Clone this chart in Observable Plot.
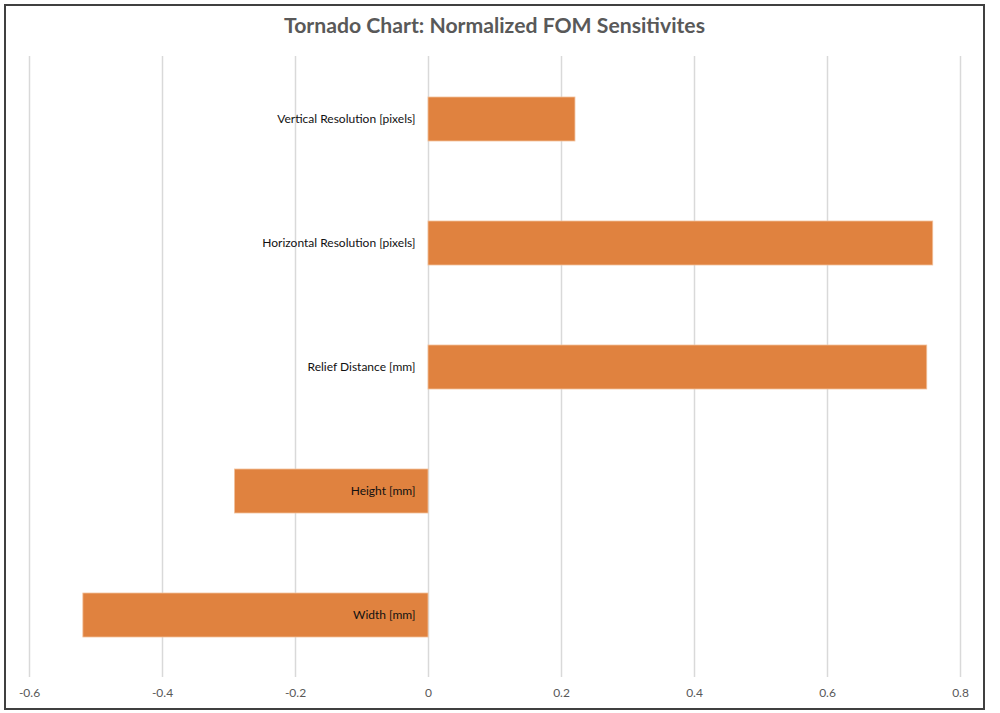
<!DOCTYPE html>
<html>
<head>
<meta charset="utf-8">
<script src="https://cdn.jsdelivr.net/npm/d3@7"></script>
<script src="https://cdn.jsdelivr.net/npm/@observablehq/plot@0.6"></script>
<style>
  html, body { margin: 0; padding: 0; background: #fff; }
  #wrap { position: relative; width: 1000px; height: 713px; overflow: hidden; }
  #frame { position: absolute; left: 4px; top: 4px; width: 981px; height: 706px; box-sizing: border-box; border: 2px solid #404040; pointer-events: none; }
  #title { position: absolute; left: 4px; top: 10px; width: 981px; text-align: center; font-family: Lato, "Open Sans", sans-serif; font-weight: bold; font-size: 21.2px; color: #595959; line-height: 30px; }
  #chart { position: absolute; left: 0; top: 52px; }
</style>
</head>
<body>
<div id="wrap">
  <div id="title">Tornado Chart: Normalized FOM Sensitivites</div>
  <div id="chart"></div>
  <div id="frame"></div>
</div>
<script>
const categories = [
  "Vertical Resolution [pixels]",
  "Horizontal Resolution [pixels]",
  "Relief Distance [mm]",
  "Height [mm]",
  "Width [mm]"
];
const values = [0.221, 0.759, 0.750, -0.291, -0.519];
const xTicks = [-0.6, -0.4, -0.2, 0, 0.2, 0.4, 0.6, 0.8];

const data = categories.map((c, i) => ({category: c, value: values[i]}));

const fmt = d => (Math.abs(d) < 1e-9 ? "0" : d.toFixed(1));

const chart = Plot.plot({
  width: 1000,
  height: 661,
  marginTop: 4,
  marginBottom: 36,
  marginLeft: 29,
  marginRight: 40,
  style: {fontFamily: "Lato, 'Open Sans', sans-serif", background: "transparent"},
  x: {domain: [-0.6, 0.8], ticks: xTicks},
  y: {domain: categories, paddingInner: 0.646, paddingOuter: 0.323, axis: null},
  marks: [
    Plot.ruleX(xTicks, {stroke: "#d9d9d9", strokeWidth: 1.5}),
    Plot.barX(data, {x: "value", y: "category", fill: "#E0823F", stroke: "#f2c19c", strokeWidth: 0.8}),
    Plot.text(data, {x: () => 0, y: "category", text: "category", textAnchor: "end", dx: -13, fill: "#111", fontSize: 12}),
    Plot.axisX({ticks: xTicks, tickSize: 0, tickPadding: 11, tickFormat: fmt, fontSize: 12, color: "#595959", label: null})
  ]
});
document.getElementById("chart").appendChild(chart);
</script>
</body>
</html>
